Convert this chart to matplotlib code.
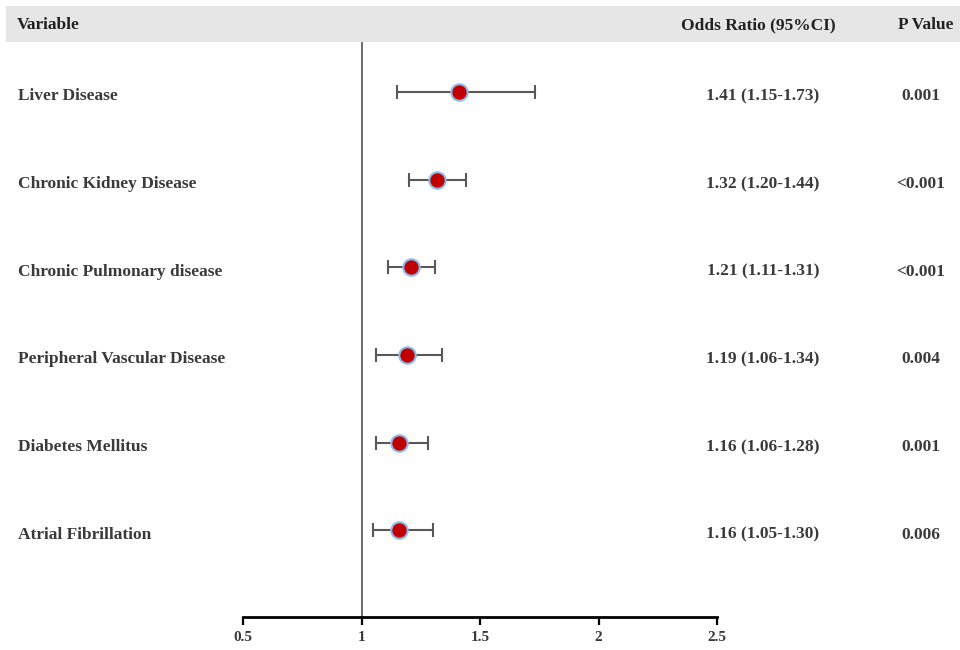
import numpy as np
import matplotlib.pyplot as plt
from matplotlib.patches import Rectangle

# ==============================
# DATA
# ==============================
variables = [
    "Liver Disease",
    "Chronic Kidney Disease",
    "Chronic Pulmonary disease",
    "Peripheral Vascular Disease",
    "Diabetes Mellitus",
    "Atrial Fibrillation",
]
odds_ratio = [1.41, 1.32, 1.21, 1.19, 1.16, 1.16]
ci_low = [1.15, 1.20, 1.11, 1.06, 1.06, 1.05]
ci_high = [1.73, 1.44, 1.31, 1.34, 1.28, 1.30]
p_values = ["0.001", "<0.001", "<0.001", "0.004", "0.001", "0.006"]
x_ticks = [0.5, 1, 1.5, 2, 2.5]
x_tick_labels = ["0.5", "1", "1.5", "2", "2.5"]

FONT = "Liberation Serif"
TEXT_COLOR = "#3a3a3a"
W, H = 960, 650

# ==============================
# FIGURE / AXES
# ==============================
fig = plt.figure(figsize=(9.6, 6.5), dpi=100)

# header band
fig.patches.append(Rectangle((6 / W, 1 - 42 / H), 1 - 6 / W, 36 / H,
                             transform=fig.transFigure, facecolor="#e6e6e6",
                             edgecolor="none", zorder=0))

ax = fig.add_axes([243 / W, 1 - 617 / H, (717 - 243) / W, (617 - 42) / H])
ax.patch.set_alpha(0)

rows = np.arange(1, len(variables) + 1)
ax.set_xlim(0.5, 2.5)
ax.set_ylim(6.99, 0.43)

or_arr = np.array(odds_ratio)
err = [or_arr - np.array(ci_low), np.array(ci_high) - or_arr]
ax.errorbar(or_arr, rows, xerr=err, fmt="none", ecolor="#585858",
            elinewidth=1.5, capsize=5, capthick=1.5, zorder=2)
ax.scatter(or_arr, rows, s=140, marker="o", facecolor="#c00000",
           edgecolor="#8cbbe8", linewidth=1.5, zorder=3)
ax.axvline(1, color="#444444", linewidth=1.1, zorder=1)

for s in ["top", "right", "left"]:
    ax.spines[s].set_visible(False)
ax.spines["bottom"].set_linewidth(2)
ax.set_yticks([])
ax.set_xticks(x_ticks)
ax.set_xticklabels(x_tick_labels, fontfamily=FONT, fontweight="bold",
                   fontsize=11, color=TEXT_COLOR)
ax.tick_params(axis="x", direction="out", length=6, width=1.6, pad=4)

# ==============================
# TEXT COLUMNS
# ==============================
trans = ax.get_yaxis_transform()
fx = lambda px: (px - 243) / (717 - 243)
dy = 0.05  # labels sit a little below the marker centre

for i, r in enumerate(rows):
    ax.text(fx(18), r + dy, variables[i], transform=trans, ha="left", va="center",
            fontfamily=FONT, fontweight="bold", fontsize=12.5, color=TEXT_COLOR,
            clip_on=False)
    ax.text(fx(763), r + dy, f"{odds_ratio[i]:.2f} ({ci_low[i]:.2f}-{ci_high[i]:.2f})",
            transform=trans, ha="center", va="center", fontfamily=FONT,
            fontweight="bold", fontsize=12.5, color=TEXT_COLOR, clip_on=False)
    ax.text(fx(921), r + dy, p_values[i], transform=trans, ha="center", va="center",
            fontfamily=FONT, fontweight="bold", fontsize=12.5, color=TEXT_COLOR,
            clip_on=False)

hy = 1 - 25 / H
fig.text(17 / W, hy, "Variable", ha="left", va="center", fontfamily=FONT,
         fontweight="bold", fontsize=12.5, color="#222222")
fig.text(758 / W, hy, "Odds Ratio (95%CI)", ha="center", va="center",
         fontfamily=FONT, fontweight="bold", fontsize=12.5, color="#222222")
fig.text(926 / W, hy, "P Value", ha="center", va="center", fontfamily=FONT,
         fontweight="bold", fontsize=12.5, color="#222222")

fig.savefig("out.png", dpi=100)
